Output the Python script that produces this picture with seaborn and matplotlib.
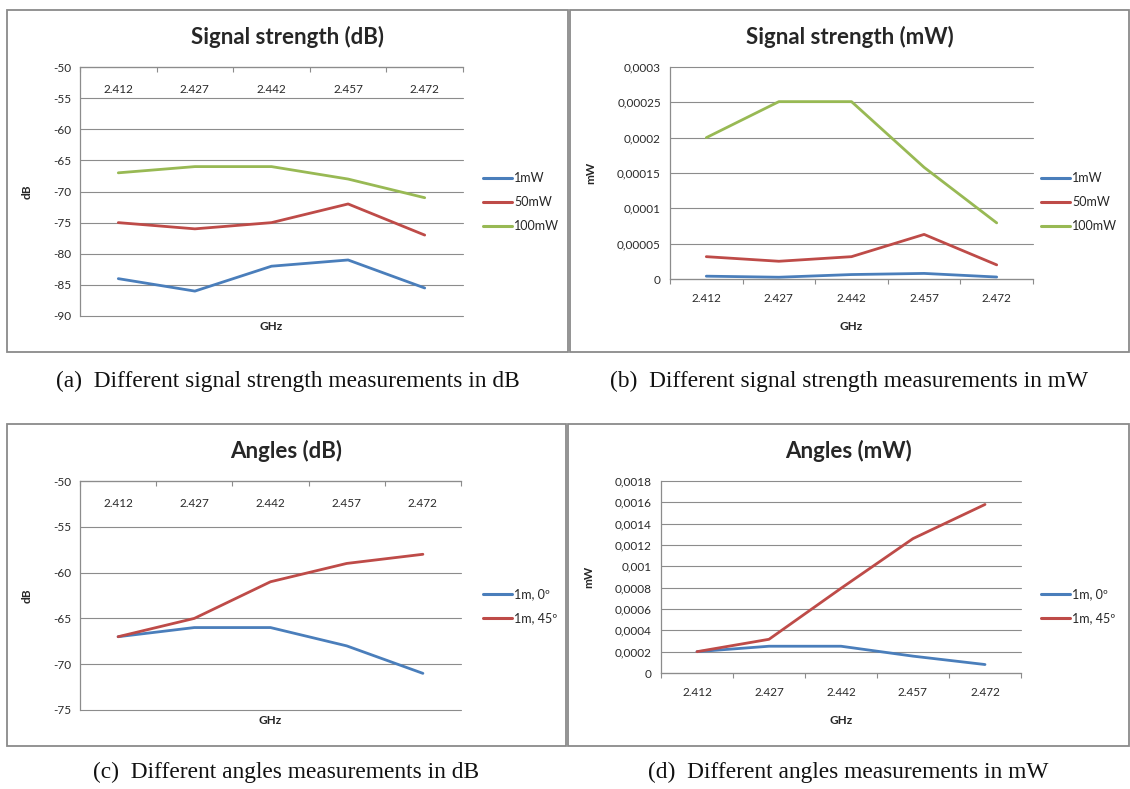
import numpy as np
import pandas as pd
import matplotlib
matplotlib.use("Agg")
import matplotlib.pyplot as plt
from matplotlib.patches import Rectangle
from matplotlib.lines import Line2D
from matplotlib.ticker import FuncFormatter, MultipleLocator
import seaborn as sns

# ---- data -------------------------------------------------------------
freqs = ["2.412", "2.427", "2.442", "2.457", "2.472"]

power_labels = ["1mW", "50mW", "100mW"]
power_db_1mw = [-84, -86, -82, -81, -85.5]
power_db_50mw = [-75, -76, -75, -72, -77]
power_db_100mw = [-67, -66, -66, -68, -71]

power_mw_1mw = [0.0000040, 0.0000025, 0.0000063, 0.0000079, 0.0000028]
power_mw_50mw = [0.0000316, 0.0000251, 0.0000316, 0.0000631, 0.0000200]
power_mw_100mw = [0.000200, 0.000251, 0.000251, 0.000158, 0.0000794]

angle_labels = ["1m, 0º", "1m, 45º"]
angle_db_0 = [-67, -66, -66, -68, -71]
angle_db_45 = [-67, -65, -61, -59, -58]

angle_mw_0 = [0.000200, 0.000251, 0.000251, 0.000158, 0.0000794]
angle_mw_45 = [0.000200, 0.000316, 0.000794, 0.00126, 0.00158]

captions = [
    "(a)  Different signal strength measurements in dB",
    "(b)  Different signal strength measurements in mW",
    "(c)  Different angles measurements in dB",
    "(d)  Different angles measurements in mW",
]

# ---- style ------------------------------------------------------------
sns.set_style("white")
plt.rcParams["font.family"] = ["Lato", "DejaVu Sans"]
plt.rcParams["axes.unicode_minus"] = False

BLUE = "#4A7EBB"
RED = "#BE4B48"
GREEN = "#98B954"
GRID = "#8C8C8C"
FRAME = "#8A8A8A"
TICK_TXT = "#2A2A2A"

W, H = 1130, 789
fig = plt.figure(figsize=(W / 100, H / 100), dpi=100)


def px_box(left, top, right, bottom):
    return [left / W, 1 - bottom / H, (right - left) / W, (bottom - top) / H]


def long_frame(series, labels):
    rows = []
    for lab, vals in zip(labels, series):
        for i, v in enumerate(vals):
            rows.append({"pos": i, "value": v, "series": lab})
    return pd.DataFrame(rows)


def comma_fmt(decimals):
    def f(v, _):
        if abs(v) < 1e-12:
            return "0"
        s = f"{v:.{decimals}f}".rstrip("0").rstrip(".")
        return s.replace(".", ",")
    return FuncFormatter(f)


def panel(frame_box, axes_box, title, title_y, series, labels, colors,
          ylim, ystep, ylabel, db_axis, legend_x, legend_y, fmt=None,
          ghz_y=None, caption=None, caption_y=None):
    fl, ft, fr, fb = frame_box
    fig.patches.append(Rectangle((fl / W, 1 - fb / H), (fr - fl) / W, (fb - ft) / H,
                                 transform=fig.transFigure, fill=False,
                                 edgecolor=FRAME, linewidth=1.3))
    ax = fig.add_axes(px_box(*axes_box))
    df = long_frame(series, labels)
    sns.lineplot(data=df, x="pos", y="value", hue="series", hue_order=labels,
                 palette=colors, linewidth=2.0, legend=False, ax=ax,
                 sort=False)
    ax.set_xlim(-0.5, len(freqs) - 0.5)
    ax.set_ylim(*ylim)
    ax.yaxis.set_major_locator(MultipleLocator(ystep))
    if fmt is not None:
        ax.yaxis.set_major_formatter(fmt)
    ax.grid(axis="y", color=GRID, linewidth=0.8)
    ax.grid(axis="x", visible=False)
    ax.set_axisbelow(True)
    for gl in ax.get_ygridlines():
        gl.set_clip_on(False)

    # category axis: boundary ticks, labels centred on categories
    ax.set_xticks(np.arange(len(freqs) + 1) - 0.5)
    ax.set_xticklabels([])
    ax.set_xticks(np.arange(len(freqs)), labels=freqs, minor=True)
    ax.tick_params(axis="y", which="major", direction="out", length=3.5,
                   width=0.8, color=GRID, labelsize=8.5, pad=3,
                   labelcolor=TICK_TXT)

    ax.spines["right"].set_visible(False)
    ax.spines["left"].set_color(GRID)
    ax.spines["left"].set_linewidth(0.9)

    if db_axis:
        ax.spines["bottom"].set_visible(False)
        ax.spines["top"].set_color(GRID)
        ax.spines["top"].set_linewidth(0.9)
        ax.xaxis.set_ticks_position("top")
        ax.tick_params(axis="x", which="major", direction="in", length=3.5,
                       width=0.8, color=GRID, top=True, bottom=False)
        ax.tick_params(axis="x", which="minor", length=0, labeltop=True,
                       labelbottom=False, top=True, bottom=False,
                       labelsize=8.5, pad=-20, labelcolor=TICK_TXT)
    else:
        ax.spines["top"].set_visible(False)
        ax.spines["bottom"].set_color(GRID)
        ax.spines["bottom"].set_linewidth(0.9)
        ax.tick_params(axis="x", which="major", direction="out", length=3.5,
                       width=0.8, color=GRID, bottom=True)
        ax.tick_params(axis="x", which="minor", length=0, labelsize=8.5,
                       pad=10, labelcolor=TICK_TXT)

    ax.set_ylabel(ylabel, fontsize=8.5, fontweight="bold", labelpad=0)
    ax.set_xlabel("")
    al, at, ar, ab = axes_box
    ax.yaxis.set_label_coords((fl + 26 - al) / (ar - al), 0.5)
    ax.text(0.5, (ab - ghz_y) / (ab - at), "GHz", transform=ax.transAxes,
            ha="center", va="center", fontsize=8.5, fontweight="bold")

    fig.text(((fl + fr) / 2) / W, 1 - title_y / H, title, ha="center",
             va="center", fontsize=16, fontweight="bold")

    handles = [Line2D([], [], color=c, linewidth=2.2) for c in colors]
    fig.legend(handles, labels, loc="center left",
               bbox_to_anchor=(legend_x / W, 1 - legend_y / H),
               frameon=False, fontsize=9, handlelength=2.3,
               handletextpad=0.2, labelspacing=0.95, borderpad=0,
               borderaxespad=0)

    fig.text(((fl + fr) / 2) / W, 1 - caption_y / H, caption, ha="center",
             va="center", fontsize=16.8, family="Liberation Serif",
             color="#111111")
    return ax


# (a) signal strength, dB
panel((7, 10, 568, 352), (80, 67, 463, 316), "Signal strength (dB)", 37,
      [power_db_1mw, power_db_50mw, power_db_100mw], power_labels,
      [BLUE, RED, GREEN], (-90, -50), 5, "dB", True, 483, 202,
      ghz_y=327, caption=captions[0], caption_y=381)

# (b) signal strength, mW
panel((570, 10, 1129, 352), (670, 67, 1033, 279), "Signal strength (mW)", 37,
      [power_mw_1mw, power_mw_50mw, power_mw_100mw], power_labels,
      [BLUE, RED, GREEN], (0, 0.0003), 0.00005, "mW", False, 1041, 202,
      fmt=comma_fmt(5), ghz_y=326, caption=captions[1], caption_y=381)

# (c) angles, dB
panel((7, 424, 566, 746), (80, 481, 461, 710), "Angles (dB)", 451,
      [angle_db_0, angle_db_45], angle_labels,
      [BLUE, RED], (-75, -50), 5, "dB", True, 483, 606,
      ghz_y=721, caption=captions[2], caption_y=772)

# (d) angles, mW
panel((568, 424, 1129, 746), (661, 481, 1021, 673), "Angles (mW)", 451,
      [angle_mw_0, angle_mw_45], angle_labels,
      [BLUE, RED], (0, 0.0018), 0.0002, "mW", False, 1041, 606,
      fmt=comma_fmt(4), ghz_y=721, caption=captions[3], caption_y=772)

fig.savefig("out.png", dpi=100, facecolor="white")
